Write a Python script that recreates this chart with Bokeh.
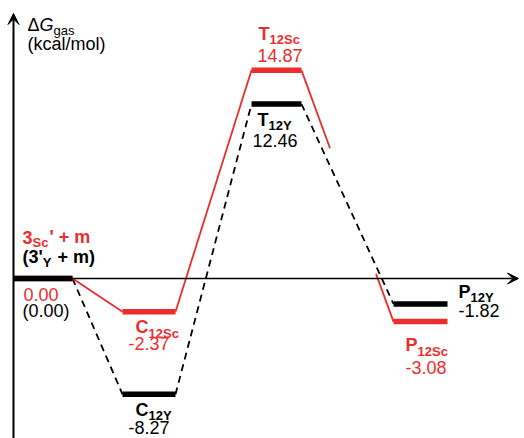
from bokeh.plotting import figure
from bokeh.models import Range1d, Arrow, VeeHead, ColumnDataSource
from bokeh.embed import file_html
from bokeh.resources import INLINE
from bokeh.core.properties import value, field

# ---------------- data ----------------
stages = ["R", "C", "T", "P"]
sc_energy = [0.00, -2.37, 14.87, -3.08]
y_energy = [0.00, -8.27, 12.46, -1.82]
sc_main = ["3", "C", "T", "P"]
sc_sub = ["Sc", "12Sc", "12Sc", "12Sc"]
sc_tail = ["' + m", "", "", ""]
y_main = ["(3'", "C", "T", "P"]
y_sub = ["Y", "12Y", "12Y", "12Y"]
y_tail = [" + m)", "", "", ""]
sc_value_fmt = ["{:.2f}", "{:.2f}", "{:.2f}", "{:.2f}"]
y_value_fmt = ["({:.2f})", "{:.2f}", "{:.2f}", "{:.2f}"]
title_parts = ["\u0394", "G", "gas"]
unit_text = "(kcal/mol)"

# ---------------- layout ----------------
W, H = 524, 438
PX = 14.0            # pixels per kcal/mol
ZERO_CANVAS = 278    # canvas px (from top) of 0 kcal/mol
bar_left = [13, 122, 251, 393]
bar_right = [72, 175, 301, 447]
RED = "#EC2D2D"
BLACK = "#000000"
FONT = "Liberation Sans"
NAME_SIZE, SUB_SIZE, VAL_SIZE = 18, 13, 18
MID = 0.35           # em-box middle above baseline (fraction of font size)
# (name dx, name dy, value dx, value dy, edge) ; dy = px below bar (baseline)
sc_off = [(9, -35, 10, 22, "L"), (13, 22, 6, 38, "L"), (7, -30, 6, -9, "L"), (12, 30, 12, 52, "L")]
y_off = [(9, -15, 9, 39, "L"), (13, 22, 6, 40, "L"), (6, 22, 1, 43, "L"), (11, -6, 11, 13, "R")]
red_gap = (0.31, 0.81)


def canvas_to_val(cy):
    return (ZERO_CANVAS - cy) / PX


BOLD_W = {"0": .556, "1": .556, "2": .556, "3": .556, "C": .722, "T": .611, "P": .667,
          "S": .667, "c": .556, "Y": .667, "'": .238, " ": .278, "+": .584, "m": .889,
          "(": .333, ")": .333}
REG_W = {"\u0394": .668, "G": .778, "g": .556, "a": .556, "s": .5}


def tw(s, size, bold):
    tbl = BOLD_W if bold else REG_W
    return sum(tbl.get(c, 0.556) for c in s) * size


rows = dict(x=[], y=[], text=[], size=[], style=[], color=[])


def add(x, y_base, t, size, style, color):
    rows["x"].append(x)
    rows["y"].append(y_base + MID * size / PX)
    rows["text"].append(t)
    rows["size"].append(f"{size}px")
    rows["style"].append(style)
    rows["color"].append(color)


def add_series_labels(energy, mains, subs, tails, fmts, offs, color):
    for i, e in enumerate(energy):
        ndx, ndy, vdx, vdy, edge = offs[i]
        x0 = bar_left[i] if edge == "L" else bar_right[i]
        base = e - ndy / PX
        bx = x0 + ndx
        add(bx, base, mains[i], NAME_SIZE, "bold", color)
        bx += tw(mains[i], NAME_SIZE, True)
        add(bx, base - 4 / PX, subs[i], SUB_SIZE, "bold", color)
        bx += tw(subs[i], SUB_SIZE, True) + 1
        tail = tails[i]
        if tail:
            stripped = tail.lstrip(" ")
            bx += tw(tail[:len(tail) - len(stripped)], NAME_SIZE, True)
            add(bx, base, stripped, NAME_SIZE, "bold", color)
        add(x0 + vdx, e - vdy / PX, fmts[i].format(e), VAL_SIZE, "normal", color)


add_series_labels(sc_energy, sc_main, sc_sub, sc_tail, sc_value_fmt, sc_off, RED)
add_series_labels(y_energy, y_main, y_sub, y_tail, y_value_fmt, y_off, BLACK)

# axis title
tx = 27
add(tx, canvas_to_val(31), title_parts[0], 18, "normal", BLACK)
tx += tw(title_parts[0], 18, False)
add(tx, canvas_to_val(31), title_parts[1], 18, "italic", BLACK)
tx += tw(title_parts[1], 18, False)
add(tx, canvas_to_val(35), title_parts[2], 13, "normal", BLACK)
add(27, canvas_to_val(50), unit_text, 18, "normal", BLACK)

p = figure(width=W, height=H, x_range=Range1d(0, W),
           y_range=Range1d(canvas_to_val(H), canvas_to_val(0)),
           output_backend="svg", toolbar_location=None, min_border=0,
           x_axis_type=None, y_axis_type=None)
p.grid.visible = False
p.outline_line_color = None


def connectors(energy):
    x0, y0, x1, y1 = [], [], [], []
    for i in range(len(energy) - 1):
        x0.append(bar_right[i]); y0.append(energy[i])
        x1.append(bar_left[i + 1]); y1.append(energy[i + 1])
    return x0, y0, x1, y1


bx0, by0, bx1, by1 = connectors(y_energy)
p.segment(x0=bx0, y0=by0, x1=bx1, y1=by1, line_color=BLACK, line_width=1.8, line_dash="7 5")

rx0, ry0, rx1, ry1 = connectors(sc_energy)
lx0, ly0, lx1, ly1 = rx0[-1], ry0[-1], rx1[-1], ry1[-1]
g0, g1 = red_gap
sx0 = rx0[:-1] + [lx0, lx0 + g1 * (lx1 - lx0)]
sy0 = ry0[:-1] + [ly0, ly0 + g1 * (ly1 - ly0)]
sx1 = rx1[:-1] + [lx0 + g0 * (lx1 - lx0), lx1]
sy1 = ry1[:-1] + [ly0 + g0 * (ly1 - ly0), ly1]
p.segment(x0=sx0, y0=sy0, x1=sx1, y1=sy1, line_color=RED, line_width=1.8)

# axes
p.add_layout(Arrow(end=VeeHead(size=11, fill_color=BLACK, line_color=BLACK, line_width=1),
                   x_start=13, y_start=canvas_to_val(H + 10), x_end=13, y_end=canvas_to_val(13),
                   line_width=2, line_color=BLACK))
p.add_layout(Arrow(end=VeeHead(size=11, fill_color=BLACK, line_color=BLACK, line_width=1),
                   x_start=13, y_start=0, x_end=518, y_end=0,
                   line_width=1.5, line_color=BLACK))

# level bars
p.segment(x0=bar_left, x1=bar_right, y0=sc_energy, y1=sc_energy, line_color=RED,
          line_width=5.5, line_cap="butt")
p.segment(x0=bar_left, x1=bar_right, y0=y_energy, y1=y_energy,
          line_color=BLACK, line_width=5.5, line_cap="butt")

src = ColumnDataSource(rows)
p.text(x="x", y="y", text="text", source=src, text_font=value(FONT),
       text_font_size=field("size"), text_font_style=field("style"),
       text_color=field("color"), text_baseline="middle", text_align="left")

open("out.html", "w").write(file_html(p, INLINE))
